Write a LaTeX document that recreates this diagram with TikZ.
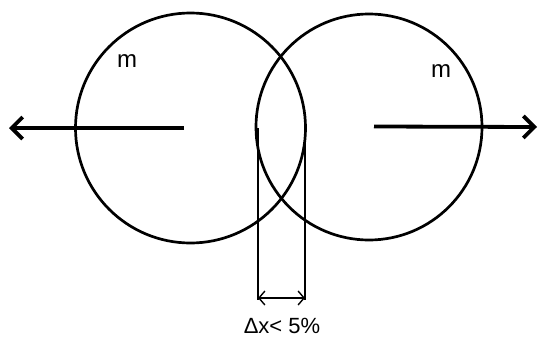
\documentclass[tikz,border=0pt]{standalone}
\usepackage{fontspec}
\setmainfont{Liberation Sans}
\usetikzlibrary{arrows.meta}
\begin{document}
\begin{tikzpicture}[x=1pt,y=-1pt,
  ball/.style={circle, draw, line width=2.7pt, inner sep=0pt},
  force/.style={line width=3.8pt, -{Straight Barb[length=11pt,width=22pt]}},
  guide/.style={line width=1.4pt},
  gap/.style={line width=1.4pt, {Straight Barb[length=6pt,width=14pt]}-{Straight Barb[length=6pt,width=14pt]}},
  lbl/.style={font=\fontsize{24}{28}\selectfont, inner sep=0pt, anchor=base}]
\useasboundingbox (0,0) rectangle (539,340);
\node[ball, minimum size=230pt] (L) at (190.5,128) {};
\node[ball, minimum size=226pt] (R) at (369,127) {};
\coordinate (Ls) at (184,128);
\coordinate (Le) at (9,128);
\coordinate (Rs) at (374,126.5);
\coordinate (Re) at (537,127);
\draw[force] (Ls) -- (Le);
\draw[force] (Rs) -- (Re);
\coordinate (g1t) at (258,128);
\coordinate (g1b) at (258,300);
\coordinate (g2t) at (305,128);
\coordinate (g2b) at (305,300);
\draw[guide] (g1t) -- (g1b);
\draw[guide] (g2t) -- (g2b);
\coordinate (a1) at (258,298);
\coordinate (a2) at (305,298);
\draw[gap] (a1) -- (a2);
\node[lbl] (m1) at (127,67) {m};
\node[lbl] (m2) at (441,77) {m};
\node[lbl, font=\fontsize{22}{26}\selectfont] (dx) at (282,333) {Δx< 5\%};
\end{tikzpicture}
\end{document}
